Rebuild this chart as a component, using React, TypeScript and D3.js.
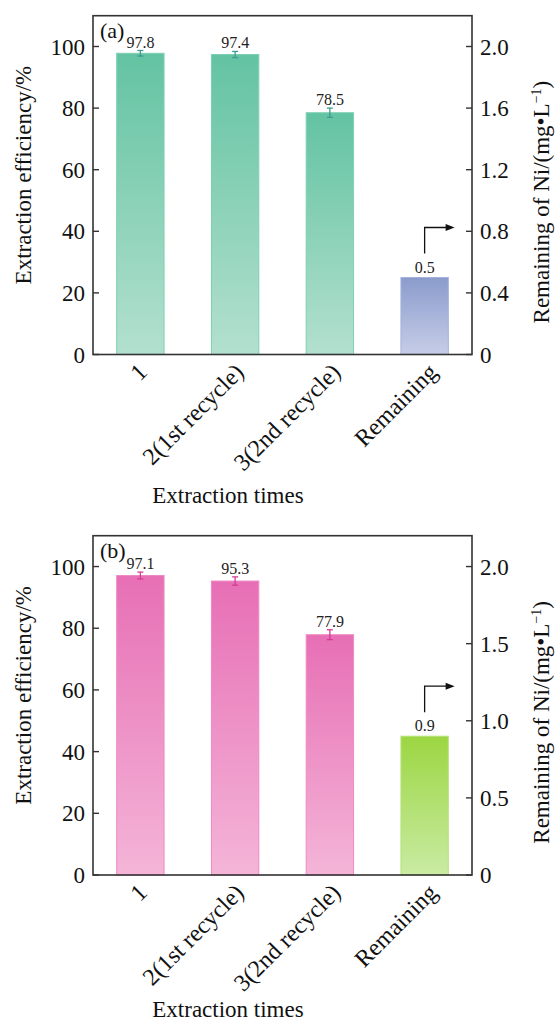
import React from "react";
import * as d3 from "d3";

const categories = ["1", "2(1st recycle)", "3(2nd recycle)", "Remaining"];

const effA = [97.8, 97.4, 78.5];
const errA = [0.9, 1.0, 1.5];
const remainA = 0.5;
const rightTicksA = [0, 0.4, 0.8, 1.2, 1.6, 2.0];

const effB = [97.1, 95.3, 77.9];
const errB = [1.1, 1.35, 1.6];
const remainB = 0.9;
const rightTicksB = [0, 0.5, 1.0, 1.5, 2.0];

const leftTicks = [0, 20, 40, 60, 80, 100];

const W = 557;
const H = 1021;
const FONT = "'Liberation Serif', 'Times New Roman', serif";
const AX = "#333333";

interface PanelProps {
  id: string;
  label: string;
  top: number;
  bottom: number;
  eff: number[];
  err: number[];
  remain: number;
  rightTicks: number[];
  rightFmt: (v: number) => string;
  barTop: string;
  barBot: string;
  barStroke: string;
  remTop: string;
  remBot: string;
  remStroke: string;
  errColor: string;
  titleY: number;
}

function Panel(p: PanelProps) {
  const left = 93;
  const right = 472;
  const x = d3.scaleBand<string>().domain(categories).range([left, right]).paddingInner(0.5).paddingOuter(0.25);
  const y = d3.scaleLinear().domain([0, 110]).range([p.bottom, p.top]);
  const yR = d3.scaleLinear().domain([0, 2.2]).range([p.bottom, p.top]);
  const bw = x.bandwidth();
  const gA = `g-${p.id}-a`;
  const gB = `g-${p.id}-b`;
  const remCat = categories[3];
  const remX = x(remCat)! + bw / 2;
  const remYTop = yR(p.remain);
  const arrowBottom = remYTop - 24;
  const arrowTop = arrowBottom - 26;
  const arrowEnd = remX + 30;
  const midY = (p.top + p.bottom) / 2;
  return (
    <g>
      <defs>
        <linearGradient id={gA} x1="0" y1="0" x2="0" y2="1">
          <stop offset="0" stopColor={p.barTop} />
          <stop offset="1" stopColor={p.barBot} />
        </linearGradient>
        <linearGradient id={gB} x1="0" y1="0" x2="0" y2="1">
          <stop offset="0" stopColor={p.remTop} />
          <stop offset="1" stopColor={p.remBot} />
        </linearGradient>
      </defs>
      {p.eff.map((v, i) => {
        const cx = x(categories[i])! + bw / 2;
        const e = p.err[i];
        return (
          <g key={i}>
            <rect
              x={x(categories[i])!}
              y={y(v)}
              width={bw}
              height={y(0) - y(v)}
              fill={`url(#${gA})`}
              stroke={p.barStroke}
              strokeWidth={1}
            />
            <line x1={cx} x2={cx} y1={y(v + e)} y2={y(v - e)} stroke={p.errColor} strokeWidth={1.3} />
            <line x1={cx - 3} x2={cx + 3} y1={y(v + e)} y2={y(v + e)} stroke={p.errColor} strokeWidth={1.3} />
            <line x1={cx - 3} x2={cx + 3} y1={y(v - e)} y2={y(v - e)} stroke={p.errColor} strokeWidth={1.3} />
            <text x={cx} y={y(v + e) - 3} textAnchor="middle" fontSize={16} fontFamily={FONT} fill="#222">
              {v.toFixed(1)}
            </text>
          </g>
        );
      })}
      <rect
        x={x(remCat)!}
        y={remYTop}
        width={bw}
        height={yR(0) - remYTop}
        fill={`url(#${gB})`}
        stroke={p.remStroke}
        strokeWidth={1}
      />
      <text x={remX} y={remYTop - 5} textAnchor="middle" fontSize={16} fontFamily={FONT} fill="#222">
        {p.remain.toFixed(1)}
      </text>
      <path
        d={`M${remX},${arrowBottom}V${arrowTop}H${arrowEnd - 7}`}
        fill="none"
        stroke="#111"
        strokeWidth={1.3}
      />
      <path d={`M${arrowEnd},${arrowTop}L${arrowEnd - 9},${arrowTop - 3.5}L${arrowEnd - 9},${arrowTop + 3.5}Z`} fill="#111" />
      <rect x={left} y={p.top} width={right - left} height={p.bottom - p.top} fill="none" stroke={AX} strokeWidth={1.6} />
      {leftTicks.map((t) => (
        <g key={t}>
          <line x1={left} x2={left + 6} y1={y(t)} y2={y(t)} stroke={AX} strokeWidth={1.4} />
          <text x={left - 8} y={y(t)} dy="0.35em" textAnchor="end" fontSize={23} fontFamily={FONT} fill="#111">
            {t}
          </text>
        </g>
      ))}
      {p.rightTicks.map((t) => (
        <g key={t}>
          <line x1={right - 6} x2={right} y1={yR(t)} y2={yR(t)} stroke={AX} strokeWidth={1.4} />
          <text x={right + 8} y={yR(t)} dy="0.35em" textAnchor="start" fontSize={23} fontFamily={FONT} fill="#111">
            {p.rightFmt(t)}
          </text>
        </g>
      ))}
      {categories.map((c, i) => {
        const cx = x(c)! + bw / 2;
        return (
          <text
            key={c}
            transform={`translate(${cx + 8 + i * 2},${p.bottom + 19}) rotate(-45)`}
            textAnchor="end"
            fontSize={24}
            fontFamily={FONT}
            fill="#111"
          >
            {c}
          </text>
        );
      })}
      <text x={100} y={p.top + 22} fontSize={22} fontFamily={FONT} fill="#111">
        {p.label}
      </text>
      <text
        transform={`translate(31,${midY - 10}) rotate(-90)`}
        textAnchor="middle"
        fontSize={23}
        fontFamily={FONT}
        fill="#111"
      >
        Extraction efficiency/%
      </text>
      <text
        transform={`translate(549,${midY + 17}) rotate(-90)`}
        textAnchor="middle"
        fontSize={23}
        fontFamily={FONT}
        fill="#111"
      >
        Remaining of Ni/(mg•L
        <tspan dy="-8" fontSize={14}>−1</tspan>
        <tspan dy="8">)</tspan>
      </text>
      <text x={228} y={p.titleY} textAnchor="middle" fontSize={23} fontFamily={FONT} fill="#111">
        Extraction times
      </text>
    </g>
  );
}

export default function App() {
  return (
    <div style={{ position: "absolute", left: 0, top: 0 }}>
      <svg width={W} height={H} style={{ display: "block", background: "#fff" }}>
        <Panel
          id="a"
          label="(a)"
          top={15.7}
          bottom={354.5}
          eff={effA}
          err={errA}
          remain={remainA}
          rightTicks={rightTicksA}
          rightFmt={(v) => (v === 0 ? "0" : v.toFixed(1))}
          barTop="#63c3a2"
          barBot="#b3e0cf"
          barStroke="#7fd0b2"
          remTop="#8a9bcc"
          remBot="#c7cde7"
          remStroke="#a4b1dc"
          errColor="#3d9c93"
          titleY={503}
        />
        <Panel
          id="b"
          label="(b)"
          top={535.7}
          bottom={875}
          eff={effB}
          err={errB}
          remain={remainB}
          rightTicks={rightTicksB}
          rightFmt={(v) => (v === 0 ? "0" : v.toFixed(1))}
          barTop="#e76fb5"
          barBot="#f4b5d8"
          barStroke="#ee8ac3"
          remTop="#9cd642"
          remBot="#c9eba3"
          remStroke="#b5e27a"
          errColor="#d53b95"
          titleY={1017}
        />
      </svg>
    </div>
  );
}
